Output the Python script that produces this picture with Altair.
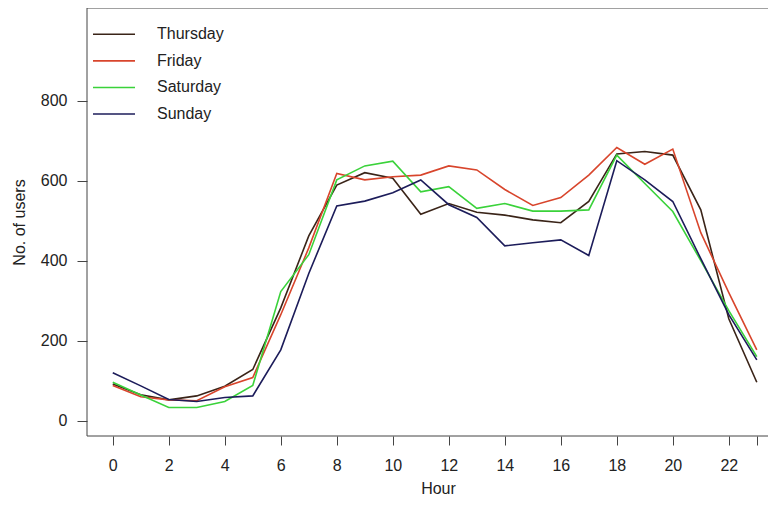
import altair as alt
import pandas as pd

hours = list(range(24))
days = ["Thursday", "Friday", "Saturday", "Sunday"]
colors = ["#3a2418", "#d8452c", "#3ad23a", "#1c1c5a"]

thursday = [92, 65, 52, 62, 86, 128, 282, 462, 589, 620, 606, 516, 543, 521, 514, 502, 495, 548, 667, 673, 664, 527, 255, 96]
friday = [88, 60, 52, 50, 85, 108, 265, 432, 618, 602, 610, 614, 637, 627, 578, 538, 558, 614, 683, 641, 679, 470, 320, 177]
saturday = [96, 64, 33, 33, 48, 88, 323, 415, 602, 637, 649, 572, 585, 531, 543, 524, 524, 527, 664, 593, 523, 400, 275, 160]
sunday = [120, 87, 53, 48, 58, 62, 177, 368, 537, 549, 570, 602, 540, 508, 437, 445, 452, 413, 650, 602, 548, 405, 265, 152]

x_ticks = [0, 2, 4, 6, 8, 10, 12, 14, 16, 18, 20, 22, 23]
y_ticks = [0, 200, 400, 600, 800]

rows = []
for d, vals in zip(days, [thursday, friday, saturday, sunday]):
    for h, v in zip(hours, vals):
        rows.append({"hour": h, "users": v, "day": d})
df = pd.DataFrame(rows)
legend_df = pd.DataFrame({"day": days})
frame_df = pd.DataFrame({"k": [0]})

FONT = "Liberation Sans"
W, H = 681, 428

color = alt.Color("day:N", scale=alt.Scale(domain=days, range=colors), legend=None)

lines = alt.Chart(df).mark_line(strokeWidth=1.6).encode(
    x=alt.X(
        "hour:Q",
        scale=alt.Scale(domain=[-0.92, 23.40], nice=False, zero=False),
        axis=alt.Axis(
            values=x_ticks,
            labelExpr="datum.value == 23 ? '' : datum.label",
            title="Hour",
            titleX=351,
            titleY=57,
            titleAlign="center",
            titleBaseline="alphabetic",
            tickSize=9,
            labelPadding=12,
            domain=False,
            grid=False,
        ),
    ),
    y=alt.Y(
        "users:Q",
        scale=alt.Scale(domain=[-38.25, 1031.75], nice=False, zero=False),
        axis=alt.Axis(
            values=y_ticks,
            title="No. of users",
            titleX=-63,
            titleBaseline="alphabetic",
            tickSize=10,
            labelPadding=10,
            domain=False,
            grid=False,
        ),
    ),
    color=color,
)

leg_y = alt.Y("day:N", sort=days,
              scale=alt.Scale(type="point", domain=days, range=[26.3, 106], padding=0),
              axis=None)

legend_rules = alt.Chart(legend_df).mark_rule(strokeWidth=1.6).encode(
    x=alt.value(6), x2=alt.value(48), y=leg_y, color=color
)
legend_text = alt.Chart(legend_df).mark_text(
    align="left", baseline="middle", font=FONT, fontSize=16, color="#222222"
).encode(x=alt.value(70), y=leg_y, text="day:N")

frame_top = alt.Chart(frame_df).mark_rule(color="#444444", strokeWidth=1).encode(
    x=alt.value(0), x2=alt.value(W), y=alt.value(0)
)
frame_left = alt.Chart(frame_df).mark_rule(color="#444444", strokeWidth=1).encode(
    x=alt.value(0), y=alt.value(0), y2=alt.value(H)
)
frame_bottom = alt.Chart(frame_df).mark_rule(color="#444444", strokeWidth=1).encode(
    x=alt.value(0), x2=alt.value(W), y=alt.value(H)
)

chart = alt.layer(
    frame_top, frame_left, frame_bottom, lines, legend_rules, legend_text
).resolve_scale(y="independent").properties(
    width=W,
    height=H,
    autosize="none",
    padding={"left": 79, "top": 0, "right": 0, "bottom": 61},
    background="white",
).configure_view(stroke=None).configure_axis(
    labelFont=FONT,
    labelFontSize=16,
    labelColor="#222222",
    titleFont=FONT,
    titleFontSize=16,
    titleFontWeight="normal",
    titleColor="#222222",
    tickColor="#444444",
    tickWidth=1,
)

chart.save("out.html", embed_options={"renderer": "svg", "actions": False})
